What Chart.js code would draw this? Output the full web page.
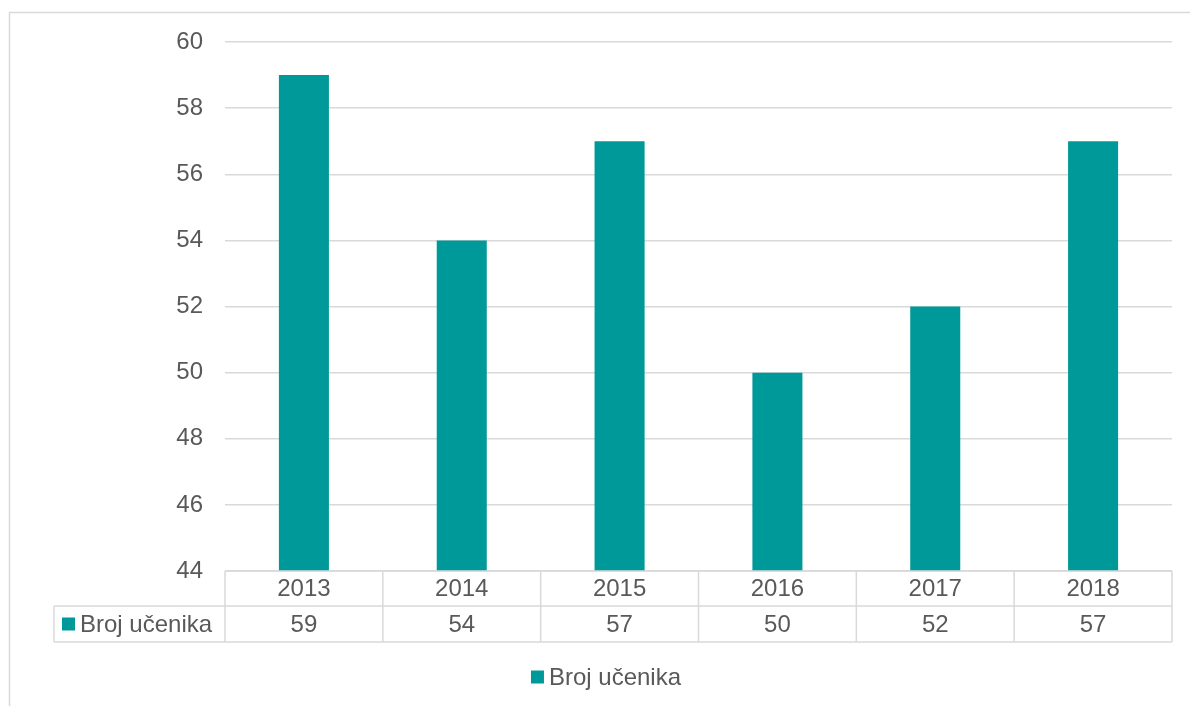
<!DOCTYPE html>
<html><head><meta charset="utf-8">
<script src="https://cdn.jsdelivr.net/npm/chart.js@4/dist/chart.umd.min.js"></script>
<style>html,body{margin:0;padding:0;background:#fff}#wrap{width:1190px;height:706px;position:relative}</style>
</head><body><div id="wrap"><canvas id="c" width="1190" height="706"></canvas></div>
<script>
const categories = ['2013', '2014', '2015', '2016', '2017', '2018'];
const seriesName = 'Broj učenika';
const values = [59, 54, 57, 50, 52, 57];
const yMin = 44, yMax = 60, yStep = 2;

const FONT = '"Liberation Sans", Arial, sans-serif';
const TEXT = '#595959';
const LINE = '#d9d9d9';
const BAR = '#009999';

const tablePlugin = {
  id: 'dataTable',
  beforeDraw(chart) {
    const ctx = chart.ctx;
    ctx.save();
    ctx.strokeStyle = LINE; ctx.lineWidth = 1.5;
    ctx.strokeRect(9.5, 12.5, 1400, 900);
    ctx.restore();
  },
  afterDraw(chart) {
    const ctx = chart.ctx, ca = chart.chartArea;
    const ds = chart.data.datasets[0];
    const labels = chart.data.labels;
    const n = labels.length, w = (ca.right - ca.left) / n;
    const r0 = ca.bottom, r1 = r0 + 35, r2 = r1 + 36, labelLeft = 54;
    ctx.save();
    ctx.strokeStyle = LINE; ctx.lineWidth = 1.5;
    ctx.beginPath();
    ctx.moveTo(ca.left, r0); ctx.lineTo(ca.right, r0);
    ctx.moveTo(labelLeft, r1); ctx.lineTo(ca.right, r1);
    ctx.moveTo(labelLeft, r2); ctx.lineTo(ca.right, r2);
    ctx.moveTo(labelLeft, r1); ctx.lineTo(labelLeft, r2);
    for (let i = 0; i <= n; i++) { const x = ca.left + i * w; ctx.moveTo(x, r0); ctx.lineTo(x, r2); }
    ctx.stroke();

    ctx.font = '24px ' + FONT;
    ctx.fillStyle = TEXT;
    ctx.textBaseline = 'middle';
    ctx.textAlign = 'center';
    for (let i = 0; i < n; i++) {
      const cx = chart.scales.x.getPixelForValue(i);
      ctx.fillText(labels[i], cx, (r0 + r1) / 2 + 1);
      ctx.fillText(String(ds.data[i]), cx, (r1 + r2) / 2 + 1);
    }
    // series key in table
    ctx.fillStyle = ds.backgroundColor;
    ctx.fillRect(62, (r1 + r2) / 2 - 6.5, 13, 13);
    ctx.fillStyle = TEXT; ctx.textAlign = 'left';
    ctx.fillText(ds.label, 80, (r1 + r2) / 2 + 1);

    // legend below
    const tw = ctx.measureText(ds.label).width;
    const total = 13 + 5 + tw;
    const lx = 606 - total / 2, ly = 677;
    ctx.fillStyle = ds.backgroundColor;
    ctx.fillRect(lx, ly - 6.5, 13, 13);
    ctx.fillStyle = TEXT;
    ctx.fillText(ds.label, lx + 18, ly + 1);
    ctx.restore();
  }
};

new Chart(document.getElementById('c'), {
  type: 'bar',
  data: {
    labels: categories,
    datasets: [{
      label: seriesName,
      data: values,
      backgroundColor: BAR,
      borderWidth: 0,
      barPercentage: 0.317,
      categoryPercentage: 1.0
    }]
  },
  options: {
    responsive: false,
    animation: false,
    events: [],
    layout: { padding: { left: 0, top: 42, right: 18, bottom: 135 } },
    plugins: { legend: { display: false }, tooltip: { enabled: false } },
    scales: {
      x: { display: false, offset: true },
      y: {
        min: yMin, max: yMax,
        afterFit(scale) { scale.width = 225; },
        border: { display: false },
        grid: { color: LINE, lineWidth: 1.5, drawTicks: false },
        ticks: { stepSize: yStep, padding: 22, color: TEXT, font: { family: FONT, size: 24 } }
      }
    }
  },
  plugins: [tablePlugin]
});
</script></body></html>
